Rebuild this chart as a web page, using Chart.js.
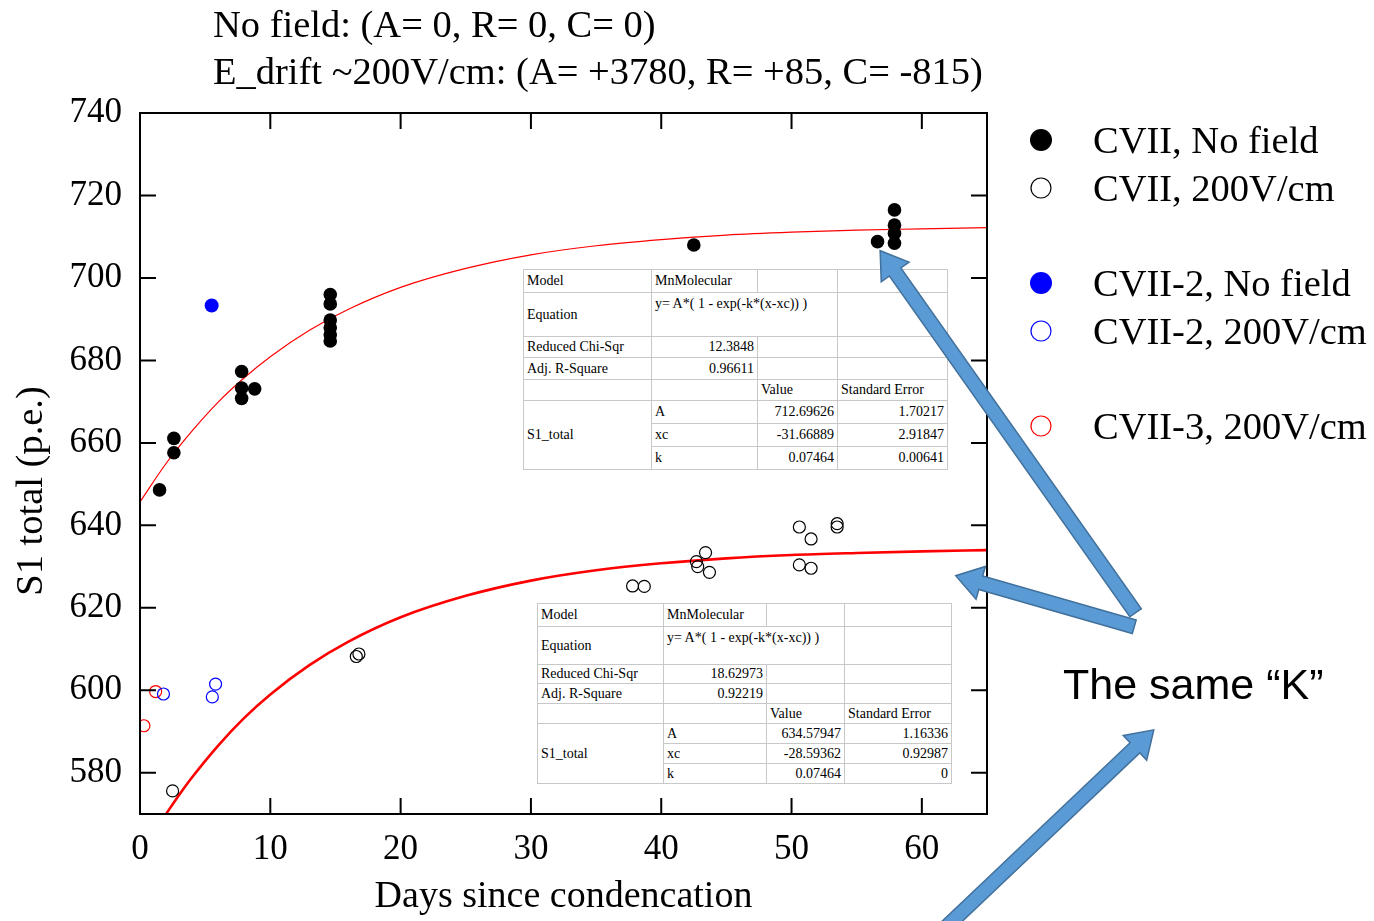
<!DOCTYPE html>
<html>
<head>
<meta charset="utf-8">
<title>S1 total vs days since condencation</title>
<script src="https://cdn.jsdelivr.net/npm/chart.js@4.4.0/dist/chart.umd.min.js"></script>
<style>
  html, body { margin: 0; padding: 0; background: #fff; }
  #stage { position: relative; width: 1374px; height: 921px; overflow: hidden; background: #fff; }
  #s1Chart { position: absolute; left: 0; top: 0; z-index: 2; pointer-events: none; }
  table.fit {
    position: absolute; z-index: 1; border-collapse: collapse; table-layout: fixed;
    font-family: 'Liberation Serif', 'Times New Roman', serif; font-size: 14px; color: #000;
    background: #fff; border: 1.5px solid #000;
  }
  table.fit td { border: 1px solid #c8c8c8; padding: 0 3px; white-space: nowrap; overflow: visible; line-height: 1; }
  table.fit td.r { text-align: right; }
  table.fit td.top { vertical-align: top; padding-top: 4px; }
</style>
</head>
<body>
<div id="stage">
  <table class="fit" id="fitTop" style="left:523px; top:269px; width:424px; height:200px;">
    <colgroup><col style="width:128px"><col style="width:106px"><col style="width:80px"><col style="width:110px"></colgroup>
    <tr style="height:23px"><td>Model</td><td>MnMolecular</td><td></td><td></td></tr>
    <tr style="height:44px"><td>Equation</td><td colspan="2" class="top">y= A*( 1 - exp(-k*(x-xc)) )</td><td></td></tr>
    <tr style="height:21px"><td>Reduced Chi-Sqr</td><td class="r">12.3848</td><td></td><td></td></tr>
    <tr style="height:22px"><td>Adj. R-Square</td><td class="r">0.96611</td><td></td><td></td></tr>
    <tr style="height:21px"><td></td><td></td><td>Value</td><td>Standard Error</td></tr>
    <tr style="height:23px"><td rowspan="3">S1_total</td><td>A</td><td class="r">712.69626</td><td class="r">1.70217</td></tr>
    <tr style="height:23px"><td>xc</td><td class="r">-31.66889</td><td class="r">2.91847</td></tr>
    <tr style="height:23px"><td>k</td><td class="r">0.07464</td><td class="r">0.00641</td></tr>
  </table>
  <table class="fit" id="fitBottom" style="left:537px; top:603px; width:414px; height:180px;">
    <colgroup><col style="width:126px"><col style="width:103px"><col style="width:78px"><col style="width:107px"></colgroup>
    <tr style="height:23px"><td>Model</td><td>MnMolecular</td><td></td><td></td></tr>
    <tr style="height:38px"><td>Equation</td><td colspan="2" class="top">y= A*( 1 - exp(-k*(x-xc)) )</td><td></td></tr>
    <tr style="height:19px"><td>Reduced Chi-Sqr</td><td class="r">18.62973</td><td></td><td></td></tr>
    <tr style="height:20px"><td>Adj. R-Square</td><td class="r">0.92219</td><td></td><td></td></tr>
    <tr style="height:20px"><td></td><td></td><td>Value</td><td>Standard Error</td></tr>
    <tr style="height:20px"><td rowspan="3">S1_total</td><td>A</td><td class="r">634.57947</td><td class="r">1.16336</td></tr>
    <tr style="height:20px"><td>xc</td><td class="r">-28.59362</td><td class="r">0.92987</td></tr>
    <tr style="height:20px"><td>k</td><td class="r">0.07464</td><td class="r">0</td></tr>
  </table>
  <canvas id="s1Chart" width="1374" height="921"></canvas>
</div>
<script>
// --- data ---
const cviiNoFieldDays = [1.5, 2.6, 2.6, 7.8, 7.8, 7.8, 8.8, 14.6, 14.6, 14.6, 14.6, 14.6, 14.6, 42.5, 56.6, 57.9, 57.9, 57.9, 57.9];
const cviiNoFieldS1   = [648.6, 661.1, 657.6, 677.3, 673.3, 670.8, 673.1, 696.0, 693.7, 689.8, 687.9, 686.2, 684.7, 708.0, 708.8, 716.5, 712.8, 710.8, 708.4];

const cvii200Days = [2.5, 16.6, 16.8, 37.8, 38.7, 42.7, 42.8, 43.4, 43.7, 50.6, 51.5, 50.6, 51.5, 53.5, 53.5];
const cvii200S1   = [575.6, 608.2, 608.8, 625.3, 625.2, 631.2, 630.0, 633.4, 628.6, 639.6, 636.7, 630.4, 629.6, 640.4, 639.6];

const cvii2NoFieldDays = [5.5];
const cvii2NoFieldS1   = [693.3];

const cvii2200Days = [1.8, 5.8, 5.55];
const cvii2200S1   = [599.1, 601.5, 598.4];

const cvii3200Days = [1.2, 0.3];
const cvii3200S1   = [599.7, 591.4];

// fitted curves
const fitNoFieldDays = [0, 2, 4, 6, 8, 10, 13, 16, 20, 25, 30, 35, 40, 45, 50, 55, 60, 65];
const fitNoFieldS1   = [645.7, 655.0, 662.9, 669.9, 675.8, 680.9, 687.3, 692.4, 697.7, 702.3, 705.6, 707.8, 709.3, 710.4, 711.1, 711.6, 711.9, 712.2];
const fit200Days = [2, 3, 4, 6, 8, 10, 13, 16, 20, 25, 30, 35, 40, 45, 50, 55, 60, 65];
const fit200S1   = [570.0, 574.6, 578.9, 586.6, 593.3, 599.0, 606.1, 611.8, 617.7, 622.9, 626.6, 629.1, 630.8, 632.0, 632.8, 633.3, 633.7, 634.0];

const xTickStep = 10;
const yTickStep = 20;

const titleLines = ['No field: (A= 0, R= 0, C= 0)', 'E_drift ~200V/cm: (A= +3780, R= +85, C= -815)'];

// annotation arrows, given in data units so they follow the scales
const arrowNotes = [
  { from: [76.4, 618.8], to: [56.8, 706.6] },
  { from: [76.3, 615.4], to: [62.6, 627.8] },
  { from: [61.0, 540.0], to: [77.8, 590.4] }
];

const serif = "'Liberation Serif', 'Times New Roman', serif";

function toPoints(xs, ys) {
  return xs.map((x, i) => ({ x: x, y: ys[i] }));
}

const framePlugin = {
  id: 'frame',
  afterDatasetsDraw(chart) {
    const { ctx, chartArea: a, scales: { x, y } } = chart;
    const tick = 16;
    ctx.save();
    ctx.strokeStyle = '#000';
    ctx.lineWidth = 2;
    ctx.strokeRect(a.left, a.top, a.right - a.left, a.bottom - a.top);
    ctx.beginPath();
    x.ticks.forEach(t => {
      const px = x.getPixelForValue(t.value);
      ctx.moveTo(px, a.bottom); ctx.lineTo(px, a.bottom - tick);
      ctx.moveTo(px, a.top); ctx.lineTo(px, a.top + tick);
    });
    y.ticks.forEach(t => {
      const py = y.getPixelForValue(t.value);
      ctx.moveTo(a.left, py); ctx.lineTo(a.left + tick, py);
      ctx.moveTo(a.right, py); ctx.lineTo(a.right - tick, py);
    });
    ctx.stroke();
    ctx.restore();
  },
  afterDraw(chart) {
    const { ctx, scales: { x, y } } = chart;
    ctx.save();
    // titles on top
    ctx.fillStyle = '#000';
    ctx.font = `38.5px ${serif}`;
    ctx.textAlign = 'left';
    ctx.textBaseline = 'alphabetic';
    ctx.fillText(titleLines[0], 213, 37);
    ctx.fillText(titleLines[1], 213, 84);

    // y axis title
    ctx.save();
    ctx.translate(32, 491);
    ctx.rotate(-Math.PI / 2);
    ctx.textAlign = 'center';
    ctx.textBaseline = 'middle';
    ctx.font = `38.5px ${serif}`;
    ctx.fillText('S1 total (p.e.)', 0, 0);
    ctx.restore();

    // legend
    const rows = [140, 188, 283, 331, 426];
    const ds = chart.data.datasets.filter(d => d.inLegend);
    ds.forEach((d, i) => {
      const cy = rows[i];
      ctx.beginPath();
      ctx.arc(1041, cy, d.legendRadius, 0, Math.PI * 2);
      if (d.filled) {
        ctx.fillStyle = d.backgroundColor;
        ctx.fill();
      } else {
        ctx.lineWidth = 1.2;
        ctx.strokeStyle = d.borderColor;
        ctx.stroke();
      }
      ctx.fillStyle = '#000';
      ctx.font = `38.5px ${serif}`;
      ctx.textAlign = 'left';
      ctx.textBaseline = 'alphabetic';
      ctx.fillText(d.label, 1093, cy + 13);
    });

    // arrows
    arrowNotes.forEach(n => {
      const tx = x.getPixelForValue(n.from[0]), ty = y.getPixelForValue(n.from[1]);
      const px = x.getPixelForValue(n.to[0]), py = y.getPixelForValue(n.to[1]);
      const len = Math.hypot(px - tx, py - ty);
      const ux = (px - tx) / len, uy = (py - ty) / len;
      const nx = -uy, ny = ux;
      const w = 7, hw = 17, hl = 26;
      const bx = px - ux * hl, by = py - uy * hl;
      ctx.beginPath();
      ctx.moveTo(tx + nx * w, ty + ny * w);
      ctx.lineTo(bx + nx * w, by + ny * w);
      ctx.lineTo(bx + nx * hw, by + ny * hw);
      ctx.lineTo(px, py);
      ctx.lineTo(bx - nx * hw, by - ny * hw);
      ctx.lineTo(bx - nx * w, by - ny * w);
      ctx.lineTo(tx - nx * w, ty - ny * w);
      ctx.closePath();
      ctx.fillStyle = '#5b9bd5';
      ctx.fill();
      ctx.lineWidth = 1.5;
      ctx.strokeStyle = '#41719c';
      ctx.stroke();
    });

    // note
    ctx.fillStyle = '#000';
    ctx.font = "43px 'Liberation Sans', Arial, sans-serif";
    ctx.textAlign = 'left';
    ctx.fillText('The same \u201CK\u201D', 1063, 699);
    ctx.restore();
  }
};

const chart = new Chart(document.getElementById('s1Chart'), {
  type: 'scatter',
  data: {
    datasets: [
      {
        label: 'CVII, No field', inLegend: true, filled: true, legendRadius: 11,
        data: toPoints(cviiNoFieldDays, cviiNoFieldS1),
        backgroundColor: '#000', borderColor: '#000', borderWidth: 0, pointRadius: 6.8, order: 1
      },
      {
        label: 'CVII, 200V/cm', inLegend: true, filled: false, legendRadius: 10,
        data: toPoints(cvii200Days, cvii200S1),
        backgroundColor: 'rgba(0,0,0,0)', borderColor: '#000', borderWidth: 1.2, pointRadius: 6, order: 1
      },
      {
        label: 'CVII-2, No field', inLegend: true, filled: true, legendRadius: 11,
        data: toPoints(cvii2NoFieldDays, cvii2NoFieldS1),
        backgroundColor: '#0000ff', borderColor: '#0000ff', borderWidth: 0, pointRadius: 7, order: 1
      },
      {
        label: 'CVII-2, 200V/cm', inLegend: true, filled: false, legendRadius: 10,
        data: toPoints(cvii2200Days, cvii2200S1),
        backgroundColor: 'rgba(0,0,0,0)', borderColor: '#0000ff', borderWidth: 1.2, pointRadius: 6, order: 1
      },
      {
        label: 'CVII-3, 200V/cm', inLegend: true, filled: false, legendRadius: 10,
        data: toPoints(cvii3200Days, cvii3200S1),
        backgroundColor: 'rgba(0,0,0,0)', borderColor: '#ff0000', borderWidth: 1.2, pointRadius: 6, order: 1
      },
      {
        label: 'Fit, no field', showLine: true,
        data: toPoints(fitNoFieldDays, fitNoFieldS1),
        borderColor: '#ff0000', borderWidth: 1.2, pointRadius: 0, cubicInterpolationMode: 'monotone', order: 5
      },
      {
        label: 'Fit, 200V/cm', showLine: true,
        data: toPoints(fit200Days, fit200S1),
        borderColor: '#ff0000', borderWidth: 2.6, pointRadius: 0, cubicInterpolationMode: 'monotone', order: 5
      }
    ]
  },
  options: {
    responsive: false,
    animation: false,
    events: [],
    layout: { padding: { left: 0, top: 113, right: 387, bottom: 0 } },
    plugins: { legend: { display: false }, tooltip: { enabled: false }, title: { display: false } },
    scales: {
      x: {
        type: 'linear', min: 0, max: 65,
        afterBuildTicks: s => { s.ticks = s.ticks.filter(t => t.value % xTickStep === 0); },
        afterFit: s => { s.height = 107; },
        ticks: { stepSize: xTickStep, color: '#000', padding: 15, font: { family: serif, size: 35 } },
        grid: { display: false, drawTicks: false },
        border: { display: false },
        title: { display: true, text: 'Days since condencation', color: '#000', padding: { top: 0, bottom: 1 }, font: { family: serif, size: 38 } }
      },
      y: {
        type: 'linear', min: 570, max: 740,
        afterBuildTicks: s => { s.ticks = s.ticks.filter(t => t.value % yTickStep === 0); },
        afterFit: s => { s.width = 140; },
        ticks: { stepSize: yTickStep, color: '#000', padding: 18, font: { family: serif, size: 35 } },
        grid: { display: false, drawTicks: false },
        border: { display: false }
      }
    }
  },
  plugins: [framePlugin]
});
</script>
</body>
</html>
